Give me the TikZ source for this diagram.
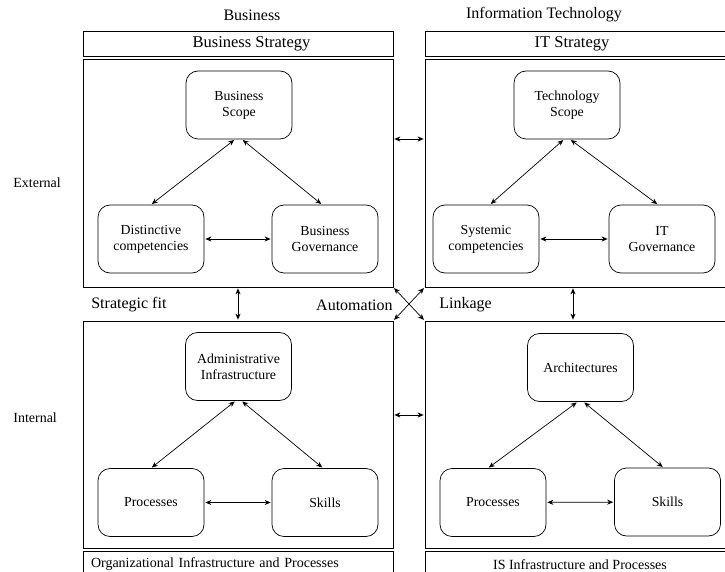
\documentclass[tikz,border=0pt]{standalone}
\usepackage{fontspec}
\setmainfont{Liberation Serif}
\usetikzlibrary{arrows.meta, positioning}

\tikzset{
	frame/.style={draw, minimum width=310pt, minimum height=228pt, inner sep=0pt},
	banner/.style={draw, minimum width=310pt, minimum height=25pt, inner sep=0pt, font=\fontsize{16.5}{19}\selectfont},
	block/.style={draw, rounded corners=12pt, minimum width=106pt, minimum height=68pt, align=center, font=\fontsize{13.8}{16}\selectfont},
	head/.style={inner sep=0pt, font=\fontsize{16}{19}\selectfont},
	side/.style={inner sep=0pt, anchor=west, font=\fontsize{14}{17}\selectfont}
}

\begin{document}
\begin{tikzpicture}[x=1pt, y=-1pt, line width=0.7pt, >={Stealth[length=6pt,width=5pt]}, shorten >=1pt, shorten <=1pt]
	
	\useasboundingbox (0,0) rectangle (725,572);
	
	%Rahmen
	\node (tl) [frame] at (238,173) {};
	\node (tr) [frame] at (580,173) {};
	\node (bl) [frame, minimum height=227pt] at (238,434.5) {};
	\node (br) [frame, minimum height=227pt] at (580,434.5) {};
	
	\node (bstrat) [banner, above=2pt of tl] {\hspace*{27pt}Business Strategy};
	\node (itstrat) [banner, above=2pt of tr] {IT Strategy\hspace*{16pt}};
	\node (orginf) [banner, below=3pt of bl, text width=294pt, align=left, font=\fontsize{14}{17}\selectfont] {Organizational Infrastructure and Processes};
	\node (isinf) [banner, below=3pt of br, font=\fontsize{14}{17}\selectfont] {IS Infrastructure and Processes};
	
	%Beschriftung
	\node (colbus) [head] at (252,15) {Business};
	\node (colit) [head] at (544,15) {Information Technology};
	\node (ext) [side] at (13,183) {External};
	\node (int) [side] at (13,418) {Internal};
	\node (fit) [head, anchor=west] at (91,305) {Strategic fit};
	\node (auto) [head, anchor=east] at (393,305) {Automation};
	\node (link) [head, anchor=west] at (439,305) {Linkage};
	
	%Knoten
	\node (bscope) [block] at (239,105) {Business\\Scope};
	\node (distinct) [block] at (151,239) {Distinctive\\competencies};
	\node (bgov) [block] at (325,239) {Business\\Governance};
	
	\node (tscope) [block] at (567,105) {Technology\\Scope};
	\node (syscomp) [block] at (486,239) {Systemic\\competencies};
	\node (itgov) [block] at (662,239) {IT\\Governance};
	
	\node (admin) [block] at (238.5,366.5) {Administrative\\Infrastructure};
	\node (proc1) [block] at (151,502.5) {Processes};
	\node (skill1) [block] at (325,502.5) {Skills};
	
	\node (arch) [block] at (580.5,367.5) {Architectures};
	\node (proc2) [block] at (493,502.5) {Processes};
	\node (skill2) [block] at (667.5,502) {Skills};
	
	%Kanten
	\path[<->]
	([xshift=-4pt]bscope.south) edge (distinct.north)
	([xshift=3pt]bscope.south) edge ([xshift=-3pt]bgov.north)
	(distinct) edge (bgov)
	
	([xshift=-3pt]tscope.south) edge ([xshift=4pt]syscomp.north)
	([xshift=3pt]tscope.south) edge ([xshift=-4pt]itgov.north)
	(syscomp) edge (itgov)
	
	([xshift=-3pt]admin.south) edge (proc1.north)
	([xshift=3pt]admin.south) edge ([xshift=-2pt]skill1.north)
	(proc1) edge (skill1)
	
	([xshift=-3pt]arch.south) edge ([xshift=-5pt]proc2.north)
	([xshift=3pt]arch.south) edge ([xshift=-4pt]skill2.north)
	(proc2) edge (skill2)
	
	([yshift=34pt]tl.east) edge ([yshift=34pt]tr.west)
	([yshift=19.5pt]bl.east) edge ([yshift=19.5pt]br.west)
	(tl.south) edge (bl.north)
	([xshift=-7pt]tr.south) edge ([xshift=-7pt]br.north)
	(tl.south east) edge (br.north west)
	(tr.south west) edge (bl.north east);
	
\end{tikzpicture}
\end{document}
